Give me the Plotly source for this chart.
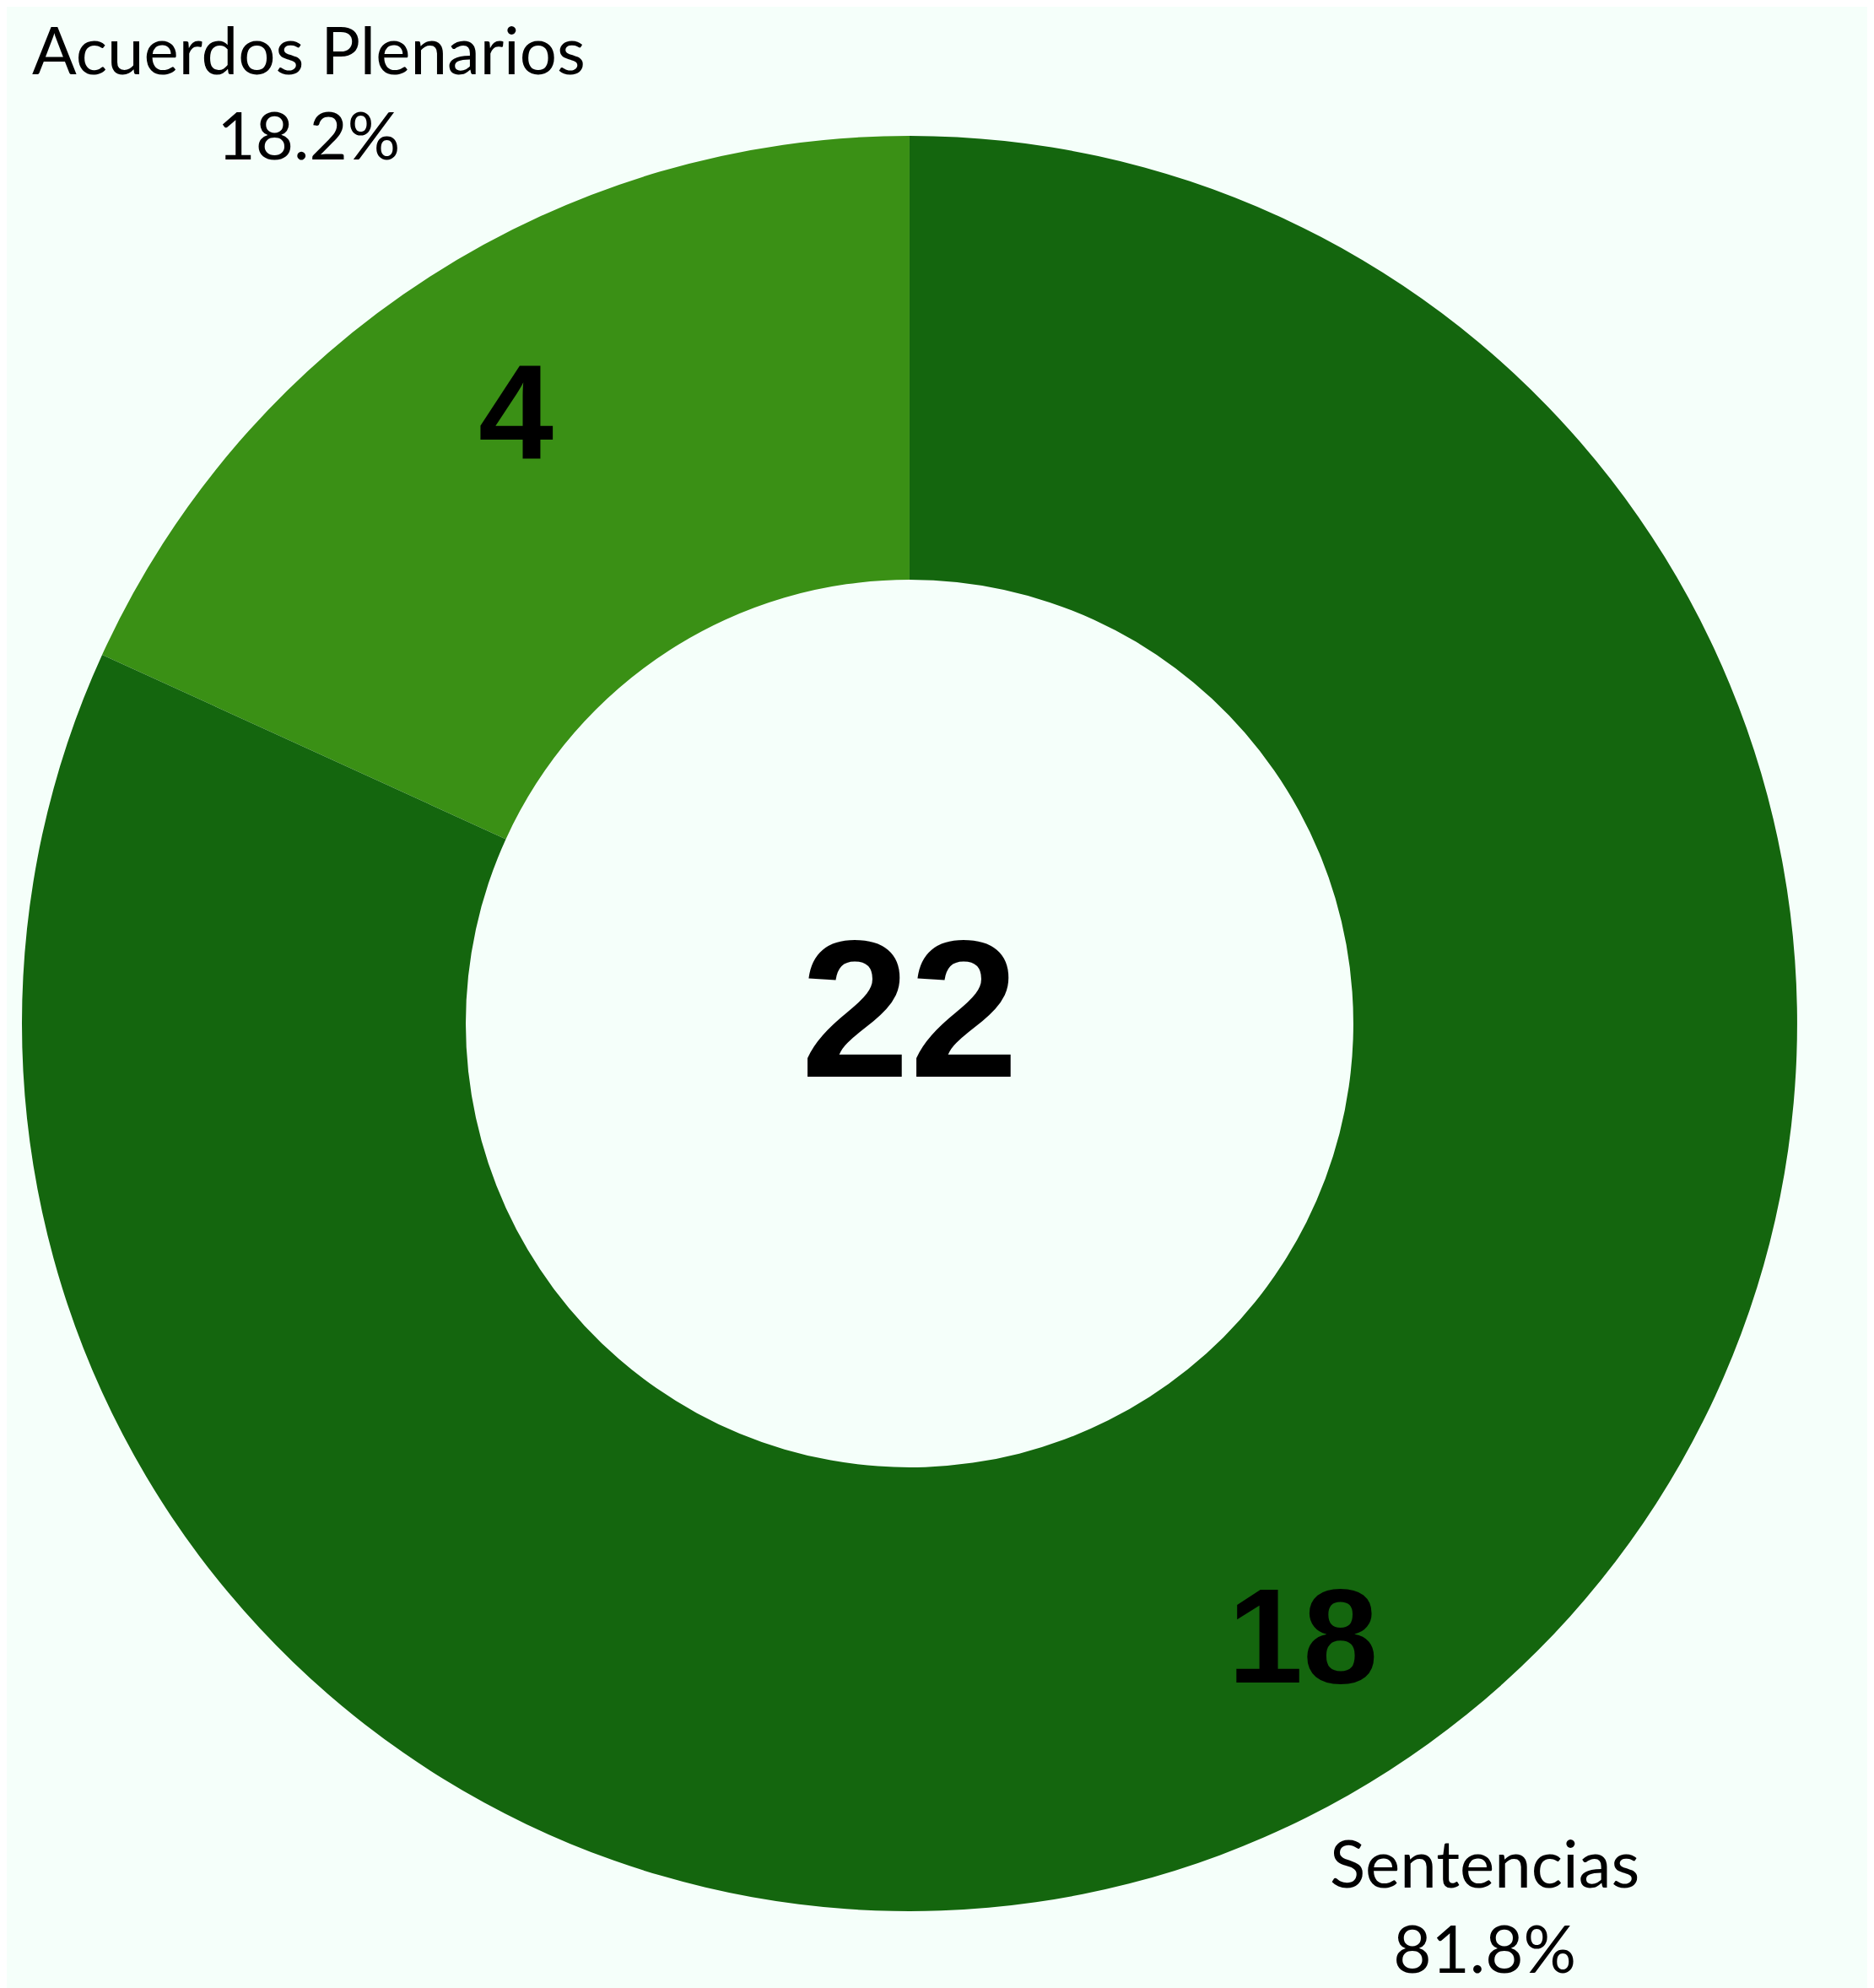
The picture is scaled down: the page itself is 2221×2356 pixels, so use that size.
import math
import plotly.graph_objects as go

labels = ["Acuerdos Plenarios", "Sentencias"]
values = [4, 18]
colors = ["#3a9015", "#14660e"]
total = sum(values)

W, H = 2221, 2356
BG = "#f5fffa"
dom = dict(x=[0.0081, 0.9554], y=[0.0420, 0.9351])
start = -360 * values[0] / total
common = dict(labels=labels, values=values, sort=False, direction="clockwise",
              rotation=start, domain=dom, showlegend=False, hoverinfo="skip")

fig = go.Figure()
fig.add_trace(go.Pie(
    hole=0.5, marker=dict(colors=colors, line=dict(width=0)),
    textinfo="none", **common,
))
fig.add_trace(go.Pie(
    hole=0.64, marker=dict(colors=["rgba(0,0,0,0)"] * len(values), line=dict(width=0)),
    textposition="inside", texttemplate="%{value}",
    insidetextorientation="horizontal",
    insidetextfont=dict(family="Liberation Sans", size=160, color="black", weight=700),
    **common,
))

# outside labels (label + percent), placed along each slice's mid-angle
cx = (dom["x"][0] + dom["x"][1]) / 2
cy = (dom["y"][0] + dom["y"][1]) / 2
r_px = min((dom["x"][1] - dom["x"][0]) * W, (dom["y"][1] - dom["y"][0]) * H) / 2
cum = 0
for lab, v in zip(labels, values):
    mid = math.radians(start + 360 * (cum + v / 2) / total)
    cum += v
    rr = 1.225 * r_px
    upper = math.cos(mid) > 0
    fig.add_annotation(
        text=f"{lab}<br>{100 * v / total:.1f}%",
        x=cx + rr * math.sin(mid) / W, y=cy + rr * math.cos(mid) / H,
        xref="paper", yref="paper", showarrow=False, align="center",
        xanchor="center", yanchor="middle", xshift=-15, yshift=20 if upper else 40,
        font=dict(family="Lato", size=78, color="black"),
    )

fig.add_annotation(
    text=str(total), x=cx, y=cy + 0.0075, xref="paper", yref="paper",
    showarrow=False, font=dict(family="Liberation Sans", size=232, color="black", weight=700),
)
fig.update_layout(
    width=W, height=H, showlegend=False,
    margin=dict(l=0, r=0, t=0, b=0, autoexpand=False),
    paper_bgcolor=BG, plot_bgcolor=BG,
)
fig.write_html("out.html")
